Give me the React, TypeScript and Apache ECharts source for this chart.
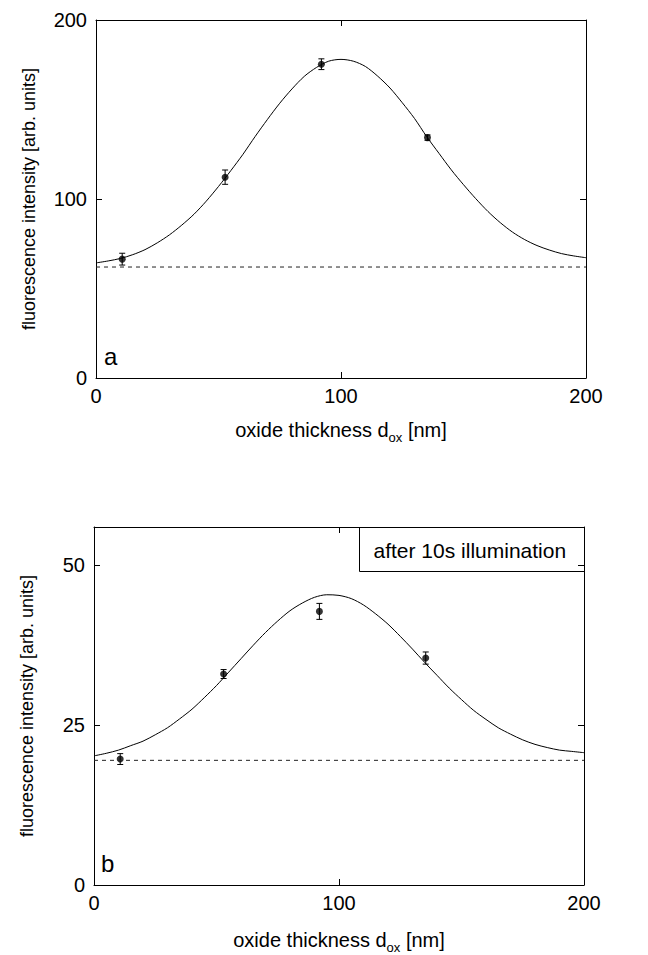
import React, { useEffect, useRef } from "react";
import * as echarts from "echarts";

// ---- data ----
const X_TICKS = [0, 100, 200];
const Y_TICKS_A = [0, 100, 200];
const Y_TICKS_B = [0, 25, 50];

// panel a: measured points (oxide thickness nm, intensity, error)
const XA = [10.7, 52.7, 92.0, 135.3];
const YA = [66.4, 112.2, 175.3, 134.3];
const ERR_A = [3.3, 4.0, 3.0, 1.5];

// panel b: measured points
const XB = [10.7, 52.9, 92.0, 135.4];
const YB = [19.7, 33.0, 42.8, 35.5];
const ERR_B = [0.85, 0.7, 1.25, 0.95];

// fitted curves, read every 5 nm
const CURVE_X = [
  0, 5, 10, 15, 20, 25, 30, 35, 40, 45, 50, 55, 60, 65, 70, 75, 80, 85, 90, 95, 100,
  105, 110, 115, 120, 125, 130, 135, 140, 145, 150, 155, 160, 165, 170, 175, 180, 185, 190, 195, 200,
];
const FIT_A = [
  64.3, 65.4, 66.8, 68.9, 71.7, 75.5, 80.0, 85.4, 91.5, 98.8, 107.0, 115.8, 125.0, 135.0, 144.5, 153.5, 161.5, 168.5, 173.5, 177.0, 178.0,
  177.0, 174.0, 168.6, 162.0, 153.8, 145.0, 134.8, 125.5, 116.3, 108.0, 100.2, 93.0, 86.8, 81.5, 77.3, 74.0, 71.5, 69.5, 68.2, 67.2,
];
const FIT_B = [
  20.2, 20.6, 21.1, 21.8, 22.5, 23.5, 24.6, 26.0, 27.5, 29.3, 31.2, 33.3, 35.4, 37.5, 39.5, 41.3, 42.9, 44.1, 45.0, 45.4, 45.3,
  44.8, 43.8, 42.4, 40.8, 38.9, 36.9, 34.8, 32.8, 30.8, 29.0, 27.3, 25.9, 24.6, 23.6, 22.7, 22.0, 21.5, 21.1, 20.9, 20.7,
];

// background (dashed) levels
const BASE_A = 62.0;
const BASE_B = 19.5;

const Y_MAX_A = 200;
const Y_MAX_B = 56;

const FONT = '"Liberation Sans", Arial, Helvetica, sans-serif';

export default function App() {
  const ref = useRef<HTMLDivElement>(null);

  useEffect(() => {
    if (!ref.current) return;
    const chart = echarts.init(ref.current, null, { renderer: "svg" });

    const axisCommon = {
      min: 0,
      axisLine: { show: true, onZero: false, lineStyle: { color: "#000", width: 1 } },
      axisTick: { show: true, inside: true, length: 6, lineStyle: { color: "#000", width: 1 } },
      splitLine: { show: false },
    };
    const labelStyle = { color: "#000", fontSize: 20, fontFamily: FONT };

    const xTitle = (gap: number) => ({
      name: "oxide thickness d{sub|ox} [nm]",
      nameLocation: "middle" as const,
      nameGap: gap,
      nameTextStyle: {
        color: "#000",
        fontSize: 20,
        fontFamily: FONT,
        lineHeight: 28,
        rich: {
          sub: { fontSize: 13, fontFamily: FONT, color: "#000", lineHeight: 14, verticalAlign: "bottom" },
        },
      },
    });
    const yTitle = {
      name: "fluorescence intensity [arb. units]",
      nameLocation: "middle" as const,
      nameRotate: 90,
      nameGap: 58,
      nameTextStyle: { color: "#000", fontSize: 18, fontFamily: FONT },
    };

    const mkX = (gridIndex: number, gap: number) => [
      {
        ...axisCommon,
        gridIndex,
        type: "value",
        position: "bottom",
        max: X_TICKS[X_TICKS.length - 1],
        interval: X_TICKS[1] - X_TICKS[0],
        axisLabel: { ...labelStyle, margin: 8 },
        ...xTitle(gap),
      },
      {
        ...axisCommon,
        gridIndex,
        type: "value",
        position: "top",
        max: X_TICKS[X_TICKS.length - 1],
        interval: X_TICKS[1] - X_TICKS[0],
        axisLabel: { show: false },
      },
    ];
    const mkY = (gridIndex: number, max: number, interval: number) => [
      {
        ...axisCommon,
        gridIndex,
        type: "value",
        position: "left",
        max,
        interval,
        axisLabel: { ...labelStyle, margin: 9, showMaxLabel: max % interval === 0 },
        ...yTitle,
      },
      {
        ...axisCommon,
        gridIndex,
        type: "value",
        position: "right",
        max,
        interval,
        axisLabel: { show: false },
      },
    ];

    const errData = (xs: number[], ys: number[], es: number[]) =>
      xs.map((x, i) => [x, ys[i] - es[i], ys[i] + es[i]]);

    const renderErr = (params: any, api: any) => {
      const x = api.value(0);
      const lo = api.coord([x, api.value(1)]);
      const hi = api.coord([x, api.value(2)]);
      const cap = 3;
      const style = { stroke: "#000", lineWidth: 1 };
      return {
        type: "group",
        children: [
          { type: "line", shape: { x1: lo[0], y1: lo[1], x2: hi[0], y2: hi[1] }, style },
          { type: "line", shape: { x1: lo[0] - cap, y1: lo[1], x2: lo[0] + cap, y2: lo[1] }, style },
          { type: "line", shape: { x1: hi[0] - cap, y1: hi[1], x2: hi[0] + cap, y2: hi[1] }, style },
        ],
      };
    };

    const panelSeries = (
      xi: number,
      yi: number,
      fit: number[],
      base: number,
      xs: number[],
      ys: number[],
      es: number[]
    ) => [
      {
        type: "line",
        xAxisIndex: xi,
        yAxisIndex: yi,
        data: [
          [X_TICKS[0], base],
          [X_TICKS[X_TICKS.length - 1], base],
        ],
        showSymbol: false,
        lineStyle: { color: "#222", width: 1, type: [4, 4] },
        silent: true,
      },
      {
        type: "line",
        xAxisIndex: xi,
        yAxisIndex: yi,
        data: CURVE_X.map((x, i) => [x, fit[i]]),
        showSymbol: false,
        smooth: 0.3,
        lineStyle: { color: "#000", width: 1 },
        silent: true,
      },
      {
        type: "custom",
        xAxisIndex: xi,
        yAxisIndex: yi,
        data: errData(xs, ys, es),
        renderItem: renderErr,
        silent: true,
      },
      {
        type: "scatter",
        xAxisIndex: xi,
        yAxisIndex: yi,
        data: xs.map((x, i) => [x, ys[i]]),
        symbol: "circle",
        symbolSize: 7,
        itemStyle: { color: "#000" },
        silent: true,
      },
    ];

    chart.setOption({
      animation: false,
      backgroundColor: "#fff",
      textStyle: { fontFamily: FONT },
      grid: [
        { left: 96, top: 20, width: 490, height: 358 },
        { left: 94, top: 527, width: 490, height: 360 },
      ],
      xAxis: [...mkX(0, 38), ...mkX(1, 41)],
      yAxis: [...mkY(0, Y_MAX_A, Y_TICKS_A[1] - Y_TICKS_A[0]), ...mkY(1, Y_MAX_B, Y_TICKS_B[1] - Y_TICKS_B[0])],
      series: [
        ...panelSeries(0, 0, FIT_A, BASE_A, XA, YA, ERR_A),
        ...panelSeries(2, 2, FIT_B, BASE_B, XB, YB, ERR_B),
      ],
      graphic: [
        {
          type: "text",
          left: 104,
          top: 344,
          style: { text: "a", font: `24px ${FONT}`, fill: "#000" },
        },
        {
          type: "text",
          left: 101,
          top: 851,
          style: { text: "b", font: `24px ${FONT}`, fill: "#000" },
        },
        {
          type: "group",
          left: 359,
          top: 527,
          children: [
            {
              type: "rect",
              shape: { x: 0, y: 0, width: 225, height: 44 },
              style: { fill: "#fff", stroke: "#000", lineWidth: 1 },
            },
            {
              type: "text",
              x: 14,
              y: 23,
              style: {
                text: "after 10s illumination",
                font: `21px ${FONT}`,
                fill: "#000",
                textVerticalAlign: "middle",
              },
            },
          ],
        },
      ],
    });

    return () => chart.dispose();
  }, []);

  return (
    <div
      ref={ref}
      style={{ position: "absolute", left: 0, top: 0, width: 648, height: 955, background: "#fff" }}
    />
  );
}
